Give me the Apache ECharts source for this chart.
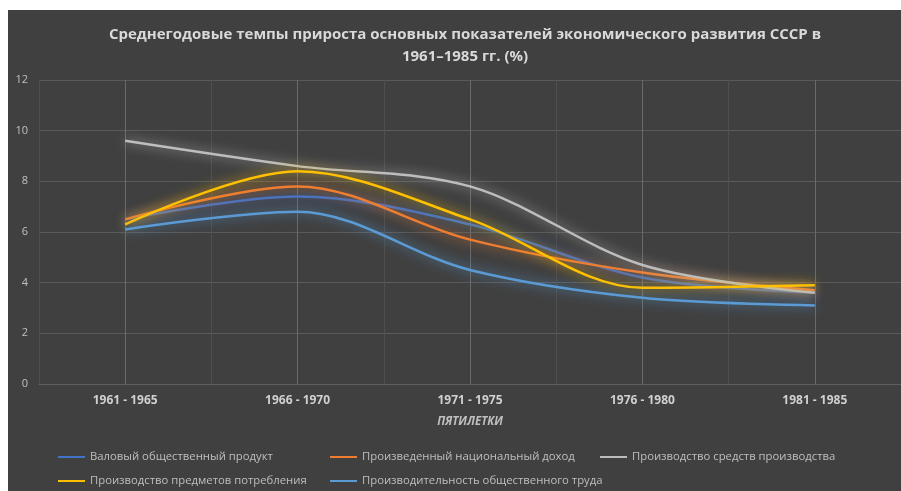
<!DOCTYPE html>
<html>
<head>
<meta charset="utf-8">
<script src="https://cdn.jsdelivr.net/npm/echarts@6/dist/echarts.min.js"></script>
<style>
  html, body { margin: 0; padding: 0; background: #ffffff; }
  #chart { position: absolute; left: 8px; top: 10px; width: 893px; height: 481px; }
</style>
</head>
<body>
<div id="chart"></div>
<script>
// пятилетки
const categories = ['1961 - 1965', '1966 - 1970', '1971 - 1975', '1976 - 1980', '1981 - 1985']
const seriesNames = [
  'Валовый общественный продукт',
  'Произведенный национальный доход',
  'Производство средств производства',
  'Производство предметов потребления',
  'Производительность общественного труда'
]
// значения, %
const grossProduct = [6.5, 7.4, 6.3, 4.2, 3.6]
const nationalIncome = [6.5, 7.8, 5.7, 4.4, 3.7]
const meansOfProduction = [9.6, 8.6, 7.8, 4.7, 3.6]
const consumerGoods = [6.3, 8.4, 6.5, 3.8, 3.9]
const labourProductivity = [6.1, 6.8, 4.5, 3.4, 3.1]
const yTicks = [0, 2, 4, 6, 8, 10, 12]

const colors = ['#4472c4', '#ed7d31', '#bdbdbd', '#ffc000', '#5b9bd5']
const values = [grossProduct, nationalIncome, meansOfProduction, consumerGoods, labourProductivity]
const font = '"Open Sans", "Noto Sans", sans-serif'

const chart = echarts.init(document.getElementById('chart'))

// линии со свечением
const series = values.map((data, i) => ({
  name: seriesNames[i],
  type: 'line',
  data: data,
  smooth: 0.33,
  symbol: 'none',
  lineStyle: {
    color: colors[i],
    width: 2.5,
    shadowColor: colors[i],
    shadowBlur: 12
  },
  itemStyle: { color: colors[i] },
  z: 2 + i
}))

const legendBase = {
  orient: 'vertical',
  top: 440,
  height: 80,
  padding: 0,
  icon: 'rect',
  itemWidth: 27,
  itemHeight: 2,
  itemGap: 10,
  textStyle: { color: '#bfbfbf', fontSize: 11.3, fontFamily: font, lineHeight: 14 }
}

const option = {
  backgroundColor: '#404040',
  animation: false,
  title: {
    text: 'Среднегодовые темпы прироста основных показателей экономического развития СССР в\n1961–1985 гг. (%)',
    left: 452,
    top: 9,
    textAlign: 'center',
    textStyle: { color: '#d9d9d9', fontSize: 15, fontWeight: 'bold', fontFamily: font, lineHeight: 22 }
  },
  legend: [
    Object.assign({}, legendBase, { left: 50, data: [seriesNames[0], seriesNames[3]] }),
    Object.assign({}, legendBase, { left: 322, data: [seriesNames[1], seriesNames[4]] }),
    Object.assign({}, legendBase, { left: 592, data: [seriesNames[2]] })
  ],
  grid: { left: 31, right: 0, top: 70, bottom: 107 },
  xAxis: {
    type: 'category',
    data: categories,
    boundaryGap: true,
    name: 'ПЯТИЛЕТКИ',
    nameLocation: 'middle',
    nameGap: 32,
    nameTextStyle: { color: '#bfbfbf', fontSize: 11.5, fontWeight: 'bold', fontStyle: 'italic', fontFamily: font },
    axisLine: { show: true, lineStyle: { color: '#5e5e5e', width: 1 } },
    axisTick: {
      show: true,
      alignWithLabel: true,
      inside: true,
      length: 304,
      lineStyle: { color: '#6a6a6a', width: 1 }
    },
    axisLabel: { color: '#d0d0d0', fontSize: 12, fontWeight: 'bold', fontFamily: font, margin: 11 },
    splitLine: { show: true, lineStyle: { color: '#4f4f4f', width: 1 } }
  },
  yAxis: {
    type: 'value',
    min: yTicks[0],
    max: yTicks[yTicks.length - 1],
    interval: 2,
    axisLine: { show: false },
    axisTick: { show: false },
    axisLabel: { color: '#c0c0c0', fontSize: 11, fontFamily: font, margin: 11 },
    splitLine: { lineStyle: { color: '#5a5a5a', width: 1 } }
  },
  series: series
}

chart.setOption(option)
</script>
</body>
</html>
